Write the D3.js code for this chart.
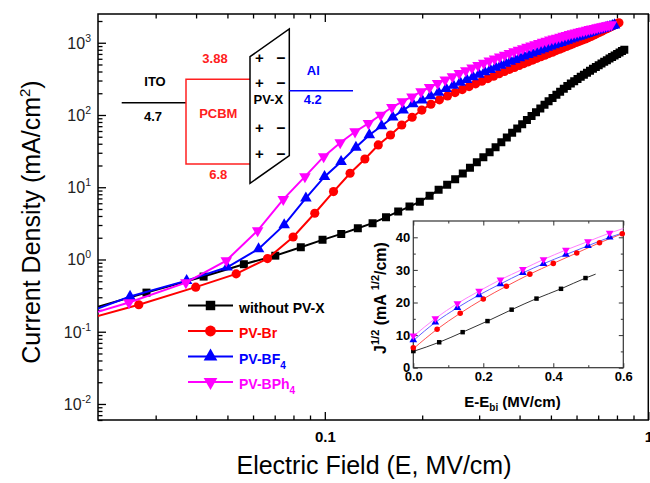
<!DOCTYPE html>
<html><head><meta charset="utf-8">
<script src="https://cdn.jsdelivr.net/npm/d3@7"></script>
<style>
body{margin:0;background:#fff}
svg{display:block}
text{font-family:"Liberation Sans",Arial,Helvetica,sans-serif}
</style>
</head><body>
<svg id="c" width="650" height="483"></svg>
<script>
// ---------------- DATA ----------------
const seriesNames = ["without PV-X", "PV-Br", "PV-BF4", "PV-BPh4"];
const seriesColors = ["#000000", "#ff0000", "#0000ff", "#ff00ff"];

// Main plot: Electric field (MV/cm) and current density (mA/cm^2)
const E_none = [0.01405,0.0281,0.0422,0.0562,0.0703,0.0843,0.0984,0.1124,0.1265,0.1405,0.1546,0.1686,0.1827,0.1967,0.2108,0.2248,0.2389,0.2529,0.2670,0.2810,0.2951,0.3091,0.3232,0.3372,0.3513,0.3653,0.3794,0.3934,0.4075,0.4215,0.4356,0.4496,0.4637,0.4777,0.4918,0.5058,0.5199,0.5339,0.5480,0.5620,0.5761,0.5901,0.6042,0.6182,0.6323,0.6463,0.6604,0.6744,0.6885,0.7025,0.7166,0.7306,0.7447,0.7587,0.7728,0.7868,0.8009,0.8149,0.8290,0.8430];
const J_none = [0.141,0.348,0.58,0.86,1.13,1.48,1.87,2.26,2.71,3.18,3.85,4.6,5.4,6.3,7.6,9.2,10.8,12.9,15.5,18.6,22.1,26.1,30.6,35.9,42.0,49.0,56.6,65.2,74.7,85.2,96.9,109,123,139,155,172,191,210,230,251,272,293,316,338,361,385,410,436,461,489,516,545,574,604,635,667,700,733,767,803];

const E_br = [0.0133,0.0266,0.0399,0.0532,0.0665,0.0798,0.0931,0.1064,0.1197,0.1330,0.1463,0.1596,0.1729,0.1862,0.1995,0.2128,0.2261,0.2394,0.2527,0.2660,0.2793,0.2926,0.3059,0.3192,0.3325,0.3458,0.3591,0.3724,0.3857,0.3990,0.4123,0.4256,0.4389,0.4522,0.4655,0.4788,0.4921,0.5054,0.5187,0.5320,0.5453,0.5586,0.5719,0.5852,0.5985,0.6118,0.6251,0.6384,0.6517,0.6650,0.6783,0.6916,0.7049,0.7182,0.7315,0.7448,0.7581,0.7714,0.7847,0.7980,0.8113];
const J_br = [0.101,0.236,0.414,0.632,1.03,2.05,4.37,8.7,15.6,24.6,38.5,52.8,72.7,93,117,141,162,183,204,225,247,270,294,319,345,372,401,428,456,485,514,545,575,608,640,673,708,741,778,815,851,889,927,966,1007,1047,1089,1130,1172,1222,1276,1330,1387,1445,1507,1567,1629,1690,1758,1824,1888];

const E_bf4 = [0.01248,0.0250,0.0374,0.0499,0.0624,0.0749,0.0874,0.0998,0.1123,0.1248,0.1373,0.1498,0.1622,0.1747,0.1872,0.1997,0.2122,0.2246,0.2371,0.2496,0.2621,0.2746,0.2870,0.2995,0.3120,0.3245,0.3370,0.3494,0.3619,0.3744,0.3869,0.3994,0.4118,0.4243,0.4368,0.4493,0.4618,0.4742,0.4867,0.4992,0.5117,0.5242,0.5366,0.5491,0.5616,0.5741,0.5866,0.5990,0.6115,0.6240,0.6365,0.6490,0.6614,0.6739,0.6864,0.6989,0.7114,0.7238,0.7363,0.7488,0.7613,0.7738,0.7862];
const J_bf4 = [0.0957,0.307,0.51,0.78,1.40,3.01,7.05,14.0,22.6,35.7,52.8,70.5,93,117,142,161,183,206,231,256,282,309,337,365,394,425,455,486,519,551,583,617,650,685,719,754,789,824,861,896,933,968,1005,1042,1079,1117,1153,1191,1227,1265,1303,1340,1380,1416,1455,1493,1531,1567,1607,1644,1683,1718,1758];

const E_bph4 = [0.0124,0.0248,0.0372,0.0496,0.0620,0.0744,0.0868,0.0992,0.1116,0.1240,0.1364,0.1488,0.1612,0.1736,0.1860,0.1984,0.2108,0.2232,0.2356,0.2480,0.2604,0.2728,0.2852,0.2976,0.3100,0.3224,0.3348,0.3472,0.3596,0.3720,0.3844,0.3968,0.4092,0.4216,0.4340,0.4464,0.4588,0.4712,0.4836,0.4960,0.5084,0.5208,0.5332,0.5456,0.5580,0.5704,0.5828,0.5952,0.6076,0.6200,0.6324,0.6448,0.6572,0.6696,0.6820,0.6944,0.7068,0.7192,0.7316,0.7440,0.7564,0.7688];
const J_bph4 = [0.0998,0.254,0.479,0.966,2.51,6.8,14.0,26.5,41.4,58.7,76.7,100,128,153,179,210,242,274,307,341,376,412,449,485,523,561,600,638,676,716,755,793,832,869,908,946,984,1021,1057,1094,1130,1164,1202,1236,1271,1306,1340,1371,1403,1436,1466,1500,1531,1560,1589,1618,1644,1671,1698,1726,1754,1778];

// Inset: E - Ebi (MV/cm) vs J^1/2
const inE_none = [0, 0.074, 0.141, 0.212, 0.281, 0.352, 0.422, 0.492];
const inJ_none = [5.1, 7.8, 10.9, 14.3, 17.8, 21.2, 24.2, 27.5];
const inLineE_none = [0, 0.074, 0.141, 0.212, 0.281, 0.352, 0.422, 0.492, 0.521];
const inLineJ_none = [5.0, 7.8, 10.9, 14.3, 17.8, 21.2, 24.2, 27.5, 28.7];

const inE_br = [0, 0.068, 0.134, 0.200, 0.266, 0.333, 0.400, 0.467, 0.532, 0.597];
const inJ_br = [6.1, 11.8, 16.7, 21.1, 25.0, 28.7, 32.0, 35.2, 38.3, 41.1];
const inLineE_br = [0, 0.068, 0.134, 0.200, 0.266, 0.333, 0.400, 0.467, 0.532, 0.600];
const inLineJ_br = [5.8, 11.8, 16.7, 21.1, 25.0, 28.7, 32.0, 35.2, 38.3, 41.2];

const inE_bf4 = [0, 0.063, 0.126, 0.188, 0.249, 0.313, 0.372, 0.436, 0.499, 0.561];
const inJ_bf4 = [8.5, 13.9, 18.4, 22.3, 25.7, 29.1, 31.9, 34.7, 37.4, 40.0];
const inLineE_bf4 = [0, 0.063, 0.126, 0.188, 0.249, 0.313, 0.372, 0.436, 0.499, 0.561, 0.600];
const inLineJ_bf4 = [8.3, 13.9, 18.4, 22.3, 25.7, 29.1, 31.9, 34.7, 37.4, 40.0, 41.4];

const inE_bph4 = [0, 0.063, 0.126, 0.188, 0.249, 0.313, 0.372, 0.436, 0.499, 0.561];
const inJ_bph4 = [9.8, 15.1, 19.7, 23.5, 27.0, 30.2, 33.2, 36.1, 38.7, 41.3];
const inLineE_bph4 = [0, 0.063, 0.126, 0.188, 0.249, 0.313, 0.372, 0.436, 0.499, 0.561, 0.600];
const inLineJ_bph4 = [9.6, 15.1, 19.7, 23.5, 27.0, 30.2, 33.2, 36.1, 38.7, 41.3, 42.7];

// Ticks
const xMajorTicks = [0.1, 1];
const xTickLabels = ["0.1", "1"];
const xMinorTicks = [0.03,0.04,0.05,0.06,0.07,0.08,0.09,0.2,0.3,0.4,0.5,0.6,0.7,0.8,0.9];
const yMajorTicks = [0.01, 0.1, 1, 10, 100, 1000];
const yTickExponents = ["-2", "-1", "0", "1", "2", "3"];
const insetXTicks = [0, 0.2, 0.4, 0.6];
const insetXTickLabels = ["0.0", "0.2", "0.4", "0.6"];
const insetXMinor = [0.1, 0.3, 0.5];
const insetYTicks = [0, 10, 20, 30, 40];
const insetYTickLabels = ["0", "10", "20", "30", "40"];
const insetYMinor = [5, 15, 25, 35];

// Energy diagram labels
const levelLabels = {ito: "4.7", pcbmLumo: "3.88", pcbmHomo: "6.8", al: "4.2"};

// ---------------- DRAW ----------------
const svg = d3.select("#c");
const L = 98, R = 648.3, T = 14, B = 420;
const x = d3.scaleLog().domain([0.0199, 1]).range([L, R]);
const y = d3.scaleLog().domain([0.006, 2500]).range([B, T]);

svg.append("rect").attr("width", 650).attr("height", 483).attr("fill", "#fff");

function styleAxis(g) {
  g.select(".domain").remove();
  g.selectAll(".tick line").attr("stroke", "#000").attr("stroke-width", 1.3);
}

// y minor ticks (generated tick positions, not data)
const yMinorTicks = [];
[0.001, 0.01, 0.1, 1, 10, 100, 1000].forEach(p => {
  for (let k = 2; k <= 9; k++) { const v = p * k; if (v >= 0.006 && v <= 2500) yMinorTicks.push(v); }
});

// bottom
svg.append("g").attr("transform", `translate(0,${B})`)
  .call(d3.axisBottom(x).tickValues(xMinorTicks).tickSize(-4.5).tickFormat("")).call(styleAxis);
const bx = svg.append("g").attr("transform", `translate(0,${B})`)
  .call(d3.axisBottom(x).tickValues(xMajorTicks).tickSize(-8).tickPadding(11).tickFormat((d, i) => xTickLabels[i]));
styleAxis(bx);
bx.selectAll("text").attr("font-size", 15).attr("font-weight", "bold").attr("fill", "#000")
  .attr("font-family", "'Liberation Sans',Arial,sans-serif");
// top
svg.append("g").attr("transform", `translate(0,${T})`)
  .call(d3.axisTop(x).tickValues(xMinorTicks).tickSize(-4.5).tickFormat("")).call(styleAxis);
svg.append("g").attr("transform", `translate(0,${T})`)
  .call(d3.axisTop(x).tickValues(xMajorTicks).tickSize(-8).tickFormat("")).call(styleAxis);
// left
svg.append("g").attr("transform", `translate(${L},0)`)
  .call(d3.axisLeft(y).tickValues(yMinorTicks).tickSize(-4.5).tickFormat("")).call(styleAxis);
svg.append("g").attr("transform", `translate(${L},0)`)
  .call(d3.axisLeft(y).tickValues(yMajorTicks).tickSize(-8).tickFormat("")).call(styleAxis);
// y tick labels 10^n
yMajorTicks.forEach((v, i) => {
  const t = svg.append("text").attr("x", 91).attr("y", y(v) + 6)
    .attr("text-anchor", "end").attr("font-size", 16).attr("fill", "#222");
  t.append("tspan").text("10");
  t.append("tspan").attr("dy", -7).attr("font-size", 10.5).text(yTickExponents[i]);
});

// frame
svg.append("rect").attr("x", L).attr("y", T).attr("width", R - L).attr("height", B - T)
  .attr("fill", "none").attr("stroke", "#000").attr("stroke-width", 1.5);

// axis titles
const yt = svg.append("text").attr("transform", "translate(40,222) rotate(-90)")
  .attr("text-anchor", "middle").attr("font-size", 25).attr("fill", "#000");
yt.append("tspan").text("Current Density (mA/cm");
yt.append("tspan").attr("dy", -10).attr("font-size", 15).text("2");
yt.append("tspan").attr("dy", 10).text(")");
svg.append("text").attr("x", 374).attr("y", 474).attr("text-anchor", "middle")
  .attr("font-size", 25).attr("fill", "#000").text("Electric Field (E, MV/cm)");

// curves
svg.append("clipPath").attr("id", "plotclip").append("rect")
  .attr("x", L).attr("y", T).attr("width", R - L).attr("height", B - T);

const symTypes = [d3.symbolSquare, d3.symbolCircle, d3.symbolTriangle, d3.symbolTriangle];
const symRot = [0, 0, 0, 180];
const symSizes = [64, 66, 58, 58];
const mainData = [d3.zip(E_none, J_none), d3.zip(E_br, J_br), d3.zip(E_bf4, J_bf4), d3.zip(E_bph4, J_bph4)];
const line = d3.line().x(d => x(d[0])).y(d => y(d[1]));
const gc = svg.append("g").attr("clip-path", "url(#plotclip)");
mainData.forEach((data, i) => {
  const g = gc.append("g");
  g.append("path").attr("d", line(data)).attr("fill", "none")
    .attr("stroke", seriesColors[i]).attr("stroke-width", 2);
  g.selectAll("path.m").data(data.filter(d => d[0] >= 0.0199)).enter().append("path").attr("class", "m")
    .attr("d", d3.symbol().type(symTypes[i]).size(symSizes[i]))
    .attr("transform", d => `translate(${x(d[0])},${y(d[1])}) rotate(${symRot[i]})`)
    .attr("fill", seriesColors[i]);
});

// legend
const legY = [305.5, 331, 356.5, 382];
seriesNames.forEach((name, i) => {
  const g = svg.append("g");
  g.append("line").attr("x1", 188).attr("x2", 233).attr("y1", legY[i]).attr("y2", legY[i])
    .attr("stroke", seriesColors[i]).attr("stroke-width", 2);
  g.append("path").attr("d", d3.symbol().type(symTypes[i]).size(symSizes[i] * 1.4)())
    .attr("transform", `translate(210.5,${legY[i]}) rotate(${symRot[i]})`).attr("fill", seriesColors[i]);
  const t = g.append("text").attr("x", 239).attr("y", legY[i] + 7).attr("font-size", 14)
    .attr("font-weight", "bold").attr("fill", seriesColors[i]);
  const m = name.match(/^(.*?)(\d)$/);
  if (m && i > 1) {
    t.append("tspan").text(m[1]);
    t.append("tspan").attr("dy", 5).attr("font-size", 10).text(m[2]);
  } else t.text(name);
});

// energy level diagram
const ed = svg.append("g").attr("font-weight", "bold").attr("text-anchor", "middle");
ed.append("line").attr("x1", 121.7).attr("x2", 186).attr("y1", 102.7).attr("y2", 102.7)
  .attr("stroke", "#000").attr("stroke-width", 1.5);
ed.append("path").attr("d", "M250,79.3 H186 V164 H250").attr("fill", "none")
  .attr("stroke", "#ff2020").attr("stroke-width", 1.5);
ed.append("path").attr("d", "M250,56.7 L289.3,29 L289.3,155.7 L250,183.3 Z").attr("fill", "#fff")
  .attr("stroke", "#000").attr("stroke-width", 1.5);
ed.append("line").attr("x1", 289.3).attr("x2", 353).attr("y1", 90.7).attr("y2", 90.7)
  .attr("stroke", "#0000ff").attr("stroke-width", 1.5);
ed.append("text").attr("x", 155).attr("y", 86).attr("font-size", 13).attr("fill", "#000").text("ITO");
ed.append("text").attr("x", 153).attr("y", 121).attr("font-size", 13).attr("fill", "#000").text(levelLabels.ito);
ed.append("text").attr("x", 215).attr("y", 62.5).attr("font-size", 13).attr("fill", "#ff2020").text(levelLabels.pcbmLumo);
ed.append("text").attr("x", 218.3).attr("y", 117.5).attr("font-size", 13).attr("fill", "#ff2020").text("PCBM");
ed.append("text").attr("x", 218.3).attr("y", 179).attr("font-size", 13).attr("fill", "#ff2020").text(levelLabels.pcbmHomo);
ed.append("text").attr("x", 268.3).attr("y", 103.5).attr("font-size", 13).attr("fill", "#000").text("PV-X");
ed.append("text").attr("x", 313.3).attr("y", 74.5).attr("font-size", 13).attr("fill", "#0000ff").text("Al");
ed.append("text").attr("x", 312.7).attr("y", 103.5).attr("font-size", 13).attr("fill", "#0000ff").text(levelLabels.al);
[57.7, 82.7, 128.3, 154].forEach(cy => {
  ed.append("text").attr("x", 259.3).attr("y", cy + 5).attr("font-size", 15).attr("fill", "#000").text("+");
  ed.append("text").attr("x", 281).attr("y", cy + 5).attr("font-size", 16).attr("fill", "#000").text("\u2013");
});

// inset
const iL = 413.3, iR = 623.3, iT = 221, iB = 367.7;
const xi = d3.scaleLinear().domain([0, 0.6]).range([iL, iR]);
const yi = d3.scaleLinear().domain([0, 45]).range([iB, iT]);
const ig = svg.append("g");
ig.append("rect").attr("x", iL).attr("y", iT).attr("width", iR - iL).attr("height", iB - iT).attr("fill", "#fff");
function styleI(g) { g.select(".domain").remove(); g.selectAll(".tick line").attr("stroke", "#333").attr("stroke-width", 1); }
ig.append("g").attr("transform", `translate(0,${iB})`).call(d3.axisBottom(xi).tickValues(insetXMinor).tickSize(-2.5).tickFormat("")).call(styleI);
const ixb = ig.append("g").attr("transform", `translate(0,${iB})`)
  .call(d3.axisBottom(xi).tickValues(insetXTicks).tickSize(-4.5).tickPadding(4).tickFormat((d, i) => insetXTickLabels[i]));
styleI(ixb);
ixb.selectAll("text").attr("font-size", 13).attr("font-weight", "bold").attr("fill", "#000").attr("font-family", "'Liberation Sans',Arial,sans-serif");
ig.append("g").attr("transform", `translate(0,${iT})`).call(d3.axisTop(xi).tickValues(insetXMinor).tickSize(-2.5).tickFormat("")).call(styleI);
ig.append("g").attr("transform", `translate(0,${iT})`).call(d3.axisTop(xi).tickValues(insetXTicks).tickSize(-4.5).tickFormat("")).call(styleI);
ig.append("g").attr("transform", `translate(${iL},0)`).call(d3.axisLeft(yi).tickValues(insetYMinor).tickSize(-2.5).tickFormat("")).call(styleI);
const iyl = ig.append("g").attr("transform", `translate(${iL},0)`)
  .call(d3.axisLeft(yi).tickValues(insetYTicks).tickSize(-4.5).tickPadding(3).tickFormat((d, i) => insetYTickLabels[i]));
styleI(iyl);
iyl.selectAll("text").attr("font-size", 13).attr("font-weight", "bold").attr("fill", "#000").attr("font-family", "'Liberation Sans',Arial,sans-serif");
ig.append("g").attr("transform", `translate(${iR},0)`).call(d3.axisRight(yi).tickValues(insetYMinor).tickSize(-2.5).tickFormat("")).call(styleI);
ig.append("g").attr("transform", `translate(${iR},0)`).call(d3.axisRight(yi).tickValues(insetYTicks).tickSize(-4.5).tickFormat("")).call(styleI);
ig.append("rect").attr("x", iL).attr("y", iT).attr("width", iR - iL).attr("height", iB - iT)
  .attr("fill", "none").attr("stroke", "#333").attr("stroke-width", 1.2);

const insetLineColors = ["#333333", "#ff5050", "#6060ff", "#ff80ff"];
const insetLines = [d3.zip(inLineE_none, inLineJ_none), d3.zip(inLineE_br, inLineJ_br), d3.zip(inLineE_bf4, inLineJ_bf4), d3.zip(inLineE_bph4, inLineJ_bph4)];
const insetPts = [d3.zip(inE_none, inJ_none), d3.zip(inE_br, inJ_br), d3.zip(inE_bf4, inJ_bf4), d3.zip(inE_bph4, inJ_bph4)];
const iline = d3.line().x(d => xi(d[0])).y(d => yi(d[1])).curve(d3.curveMonotoneX);
const isz = [20, 24, 26, 26];
insetLines.forEach((data, i) => {
  ig.append("path").attr("d", iline(data)).attr("fill", "none").attr("stroke", insetLineColors[i]).attr("stroke-width", 1);
});
insetPts.forEach((data, i) => {
  ig.selectAll(null).data(data).enter().append("path")
    .attr("d", d3.symbol().type(symTypes[i]).size(isz[i]))
    .attr("transform", d => `translate(${xi(d[0])},${yi(d[1])}) rotate(${symRot[i]})`)
    .attr("fill", seriesColors[i]);
});
// inset titles
const ixt = ig.append("text").attr("x", 512.5).attr("y", 406.5).attr("text-anchor", "middle")
  .attr("font-size", 15).attr("font-weight", "bold").attr("fill", "#000");
ixt.append("tspan").text("E-E");
ixt.append("tspan").attr("dy", 4).attr("font-size", 10).text("bi");
ixt.append("tspan").attr("dy", -4).text(" (MV/cm)");
const iyt = ig.append("text").attr("transform", "translate(386,298) rotate(-90)").attr("text-anchor", "middle")
  .attr("font-size", 16).attr("font-weight", "bold").attr("fill", "#000");
iyt.append("tspan").text("J");
iyt.append("tspan").attr("dy", -7).attr("font-size", 11).text("1/2");
iyt.append("tspan").attr("dy", 7).text(" (mA ");
iyt.append("tspan").attr("dy", -7).attr("font-size", 11).text("1/2");
iyt.append("tspan").attr("dy", 7).text("/cm)");
</script>
</body></html>
